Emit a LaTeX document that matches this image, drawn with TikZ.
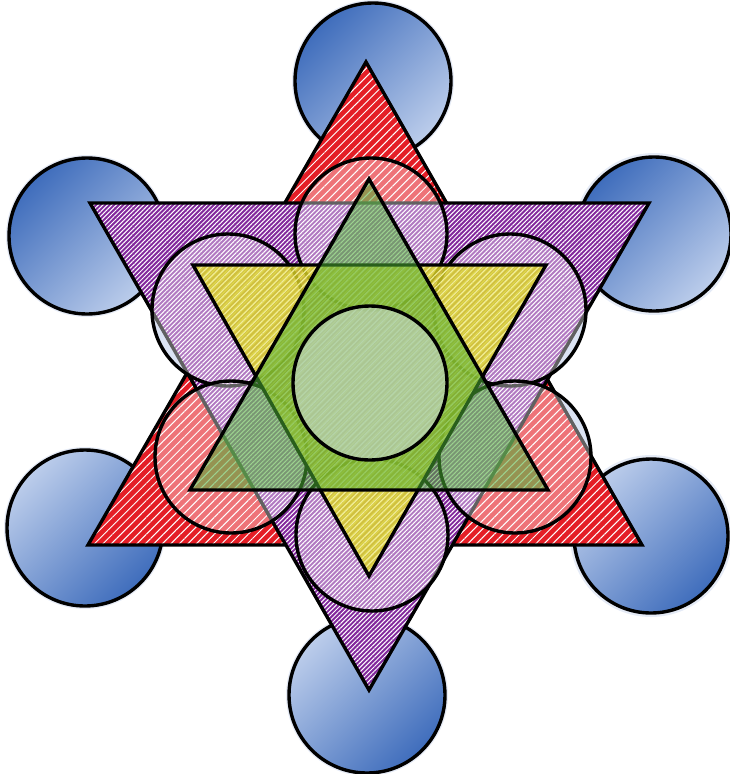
\documentclass[tikz,border=0pt]{standalone}
\usetikzlibrary{patterns.meta}
\definecolor{bdark}{HTML}{3F6DBC}
\definecolor{bmid}{HTML}{5581C9}
\definecolor{blight}{HTML}{BCCDEB}
\definecolor{shad}{HTML}{C6D2EC}
\definecolor{tred}{HTML}{E41E26}
\definecolor{tpurple}{HTML}{82289C}
\definecolor{tyellow}{HTML}{D8D024}
\definecolor{ystripe}{HTML}{F2EE9A}
\definecolor{tgreen}{HTML}{4CAE34}
\definecolor{cfill}{HTML}{D4DEF0}
\tikzset{
  outline/.style={draw=black, line width=3.4pt},
  bluetop/.style={outline, top color=bdark, middle color=bmid, bottom color=blight, shading angle=45},
  bluebot/.style={outline, top color=blight, middle color=bmid, bottom color=bdark, shading angle=45},
  midcirc/.style={outline, fill=white, fill opacity=.38},
  redtri/.style={outline, preaction={fill=tred}, pattern={Lines[angle=45,distance=6pt,line width=1pt]}, pattern color=white},
  purtri/.style={outline, preaction={fill=tpurple}, pattern={Lines[angle=45,distance=3.2pt,line width=1pt]}, pattern color=white},
  yeltri/.style={outline, preaction={fill=tyellow, fill opacity=.82}, pattern={Lines[angle=45,distance=4.5pt,line width=1.1pt]}, pattern color=ystripe, fill opacity=.82},
  grntri/.style={outline, fill=tgreen, fill opacity=.55},
  centcirc/.style={outline, fill=cfill, fill opacity=.5},
}
\begin{document}
\begin{tikzpicture}[x=1pt,y=-1pt]
\useasboundingbox (0,0) rectangle (730,774);
% outer circles
\coordinate (B1) at (373,81);
\coordinate (B2) at (87,236);
\coordinate (B3) at (654,234);
\coordinate (B4) at (85,528);
\coordinate (B5) at (651,536);
\coordinate (B6) at (367,695);
% middle circles
\coordinate (M1) at (371,234);
\coordinate (M2) at (228,310);
\coordinate (M3) at (510,310);
\coordinate (M4) at (231,457);
\coordinate (M5) at (515,457);
\coordinate (M6) at (372,535);
\coordinate (C) at (370,383);
% triangles
\coordinate (R1) at (366,62);  \coordinate (R2) at (88,545);  \coordinate (R3) at (642,545);
\coordinate (P1) at (90,203);  \coordinate (P2) at (649,203); \coordinate (P3) at (369,690);
\coordinate (Y1) at (193,265); \coordinate (Y2) at (546,265); \coordinate (Y3) at (369,576);
\coordinate (G1) at (369,179); \coordinate (G2) at (190,490); \coordinate (G3) at (548,490);
% shadows
\begin{scope}[shift={(5,6)}]
  \foreach \p in {B1,B2,B3,B4,B5,B6} {
    \fill[shad, opacity=.45] (\p) circle (81);
    \fill[shad] (\p) circle (77);
  }
  \fill[shad] (R1) -- (R2) -- (R3) -- cycle;
  \fill[shad] (P1) -- (P2) -- (P3) -- cycle;
  \foreach \p in {M1,M2,M3,M4,M5,M6} \fill[shad] (\p) circle (76);
\end{scope}
% blue circles
\shade[bluetop] (B1) circle (78);
\shade[bluetop] (B2) circle (78);
\shade[bluetop] (B3) circle (77);
\shade[bluebot] (B4) circle (78);
\shade[bluebot] (B5) circle (77);
\shade[bluebot] (B6) circle (78);
% big triangles
\draw[redtri] (R1) -- (R2) -- (R3) -- cycle;
\draw[purtri] (P1) -- (P2) -- (P3) -- cycle;
% middle circles
\foreach \p in {M1,M2,M3,M4,M5,M6} \draw[midcirc] (\p) circle (76);
% inner triangles
\draw[yeltri] (Y1) -- (Y2) -- (Y3) -- cycle;
\draw[grntri] (G1) -- (G2) -- (G3) -- cycle;
% center circle
\draw[centcirc] (C) circle (77);
\end{tikzpicture}
\end{document}
